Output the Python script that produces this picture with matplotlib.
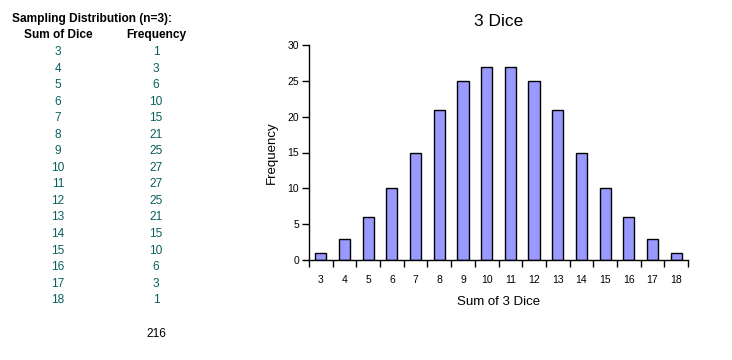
import numpy as np
import matplotlib
matplotlib.use('Agg')
import matplotlib.pyplot as plt

plt.rcParams['font.family'] = ['Liberation Sans', 'DejaVu Sans']

# Sampling distribution of the sum of 3 dice
sums = [3, 4, 5, 6, 7, 8, 9, 10, 11, 12, 13, 14, 15, 16, 17, 18]
freqs = [1, 3, 6, 10, 15, 21, 25, 27, 27, 25, 21, 15, 10, 6, 3, 1]
total = 216

fig = plt.figure(figsize=(7.32, 3.6), dpi=100)
fig.patch.set_facecolor('white')

# Table on the left
num_color = '#0a5f5f'
fs_tab = 8.6
fig.text(12/732, 1 - 19/360, 'Sampling Distribution (n=3):', fontsize=fs_tab, fontweight='bold',
         ha='left', va='center')
fig.text(58/732, 1 - 35/360, 'Sum of Dice', fontsize=fs_tab, fontweight='bold', ha='center', va='center')
fig.text(156/732, 1 - 35/360, 'Frequency', fontsize=fs_tab, fontweight='bold', ha='center', va='center')
row_y0, row_dy = 52, 16.55
for i, (s, f) in enumerate(zip(sums, freqs)):
  y = 1 - (row_y0 + i*row_dy)/360
  fig.text(58/732, y, str(s), fontsize=fs_tab, ha='center', va='center', color=num_color)
  fig.text(156/732, y, str(f), fontsize=fs_tab, ha='center', va='center', color=num_color)
fig.text(156/732, 1 - 334/360, str(total), fontsize=fs_tab, ha='center', va='center')

# Bar chart
ax = fig.add_axes([309/732, 1 - 260/360, (688 - 309)/732, (260 - 45)/360])
x = np.arange(len(sums))
ax.bar(x, freqs, width=0.47, color='#9999ff', edgecolor='black', linewidth=1.0)

ax.set_xlim(-0.5, len(sums) - 0.5)
ax.set_ylim(0, 30)
ax.set_yticks([0, 5, 10, 15, 20, 25, 30])
ax.set_xticks(np.arange(len(sums) + 1) - 0.5)
ax.set_xticklabels([])
ax.set_xticks(x, minor=True)
ax.set_xticklabels([str(s) for s in sums], minor=True)
ax.tick_params(axis='x', which='minor', length=0, labelsize=7.5, pad=11)
ax.tick_params(axis='x', which='major', length=5, width=1.0, direction='out')
ax.tick_params(axis='y', length=5, width=1.0, direction='out', labelsize=7.5, pad=2)

for side in ['top', 'right']:
  ax.spines[side].set_visible(False)
for side in ['left', 'bottom']:
  ax.spines[side].set_linewidth(1.0)

ax.set_title('3 Dice', fontsize=12.5, pad=14)
ax.set_ylabel('Frequency', fontsize=9.5, labelpad=7)
ax.set_xlabel('Sum of 3 Dice', fontsize=9.5, labelpad=8)

fig.savefig('out.png', dpi=100, facecolor=fig.get_facecolor())
